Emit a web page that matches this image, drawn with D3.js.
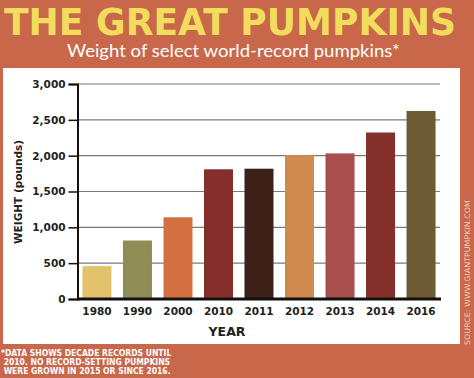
<!DOCTYPE html>
<html>
<head>
<meta charset="utf-8">
<script src="https://cdn.jsdelivr.net/npm/d3@7"></script>
<style>
  html, body { margin: 0; padding: 0; background: #c8674a; }
  svg { display: block; }
</style>
</head>
<body>
<div id="chart"></div>
<script>
// Data
const years = ['1980', '1990', '2000', '2010', '2011', '2012', '2013', '2014', '2016'];
const weights = [459, 816, 1140, 1810, 1818, 2009, 2032, 2323, 2624];
const barColors = ['#e2c26b', '#8f8c55', '#d4703f', '#842f2b', '#3d2018', '#cf8a4d', '#a84e4c', '#842f2b', '#6d5c33'];
const yTicks = [0, 500, 1000, 1500, 2000, 2500, 3000];
const footnote = ['*DATA SHOWS DECADE RECORDS UNTIL', ' 2010. NO RECORD-SETTING PUMPKINS', ' WERE GROWN IN 2015 OR SINCE 2016.'];

const data = years.map((y, i) => ({ year: y, weight: weights[i], color: barColors[i] }));

const W = 474, H = 378;
const svg = d3.select('#chart').append('svg')
    .attr('width', W)
    .attr('height', H);

// Background + white panel
svg.append('rect').attr('width', W).attr('height', H).attr('fill', '#c8674a');
svg.append('rect')
    .attr('x', 3).attr('y', 68)
    .attr('width', 457).attr('height', 276)
    .attr('fill', '#ffffff');

// Title
svg.append('text')
    .attr('x', 4).attr('y', 35)
    .attr('textLength', 452)
    .attr('lengthAdjust', 'spacingAndGlyphs')
    .style('font-family', 'DejaVu Sans')
    .style('font-weight', 'bold')
    .style('font-size', '37px')
    .attr('fill', '#f2dc5d')
    .text('THE GREAT PUMPKINS');

svg.append('text')
    .attr('x', 67).attr('y', 57)
    .attr('textLength', 333)
    .attr('lengthAdjust', 'spacingAndGlyphs')
    .style('font-family', 'Lato')
    .style('font-size', '18px')
    .attr('fill', '#ffffff')
    .text('Weight of select world-record pumpkins*');

// Scales
const x = d3.scaleBand()
    .domain(years)
    .range([78, 440])
    .paddingInner(0.284)
    .paddingOuter(0.11);

const y = d3.scaleLinear()
    .domain([0, 3000])
    .range([299, 84]);

// Gridlines
svg.append('g')
    .selectAll('line')
    .data(yTicks.filter(d => d > 0))
    .enter()
    .append('line')
    .attr('x1', 78).attr('x2', 440)
    .attr('y1', d => y(d)).attr('y2', d => y(d))
    .attr('stroke', '#7a7a7a')
    .attr('stroke-width', 1.2);

// Bars
svg.append('g')
    .selectAll('rect')
    .data(data)
    .enter()
    .append('rect')
    .attr('x', d => x(d.year))
    .attr('y', d => y(d.weight))
    .attr('width', x.bandwidth())
    .attr('height', d => y(0) - y(d.weight))
    .attr('fill', d => d.color);

// Y axis
const yAxis = d3.axisLeft(y)
    .tickValues(yTicks)
    .tickFormat(d3.format(','))
    .tickSize(9)
    .tickPadding(3);

const yG = svg.append('g')
    .attr('transform', 'translate(77.5,0)')
    .call(yAxis);
yG.select('.domain').attr('stroke', '#111').attr('stroke-width', 2);
yG.selectAll('.tick line').attr('stroke', '#111').attr('stroke-width', 1.5);
yG.selectAll('.tick text')
    .style('font-family', 'DejaVu Sans')
    .style('font-weight', 'bold')
    .style('font-size', '10.5px')
    .attr('fill', '#222');

// X axis
const xAxis = d3.axisBottom(x).tickSize(0).tickPadding(9);
const xG = svg.append('g')
    .attr('transform', 'translate(0,299)')
    .call(xAxis);
xG.select('.domain').remove();
xG.append('line')
    .attr('x1', 77).attr('x2', 441)
    .attr('y1', 0).attr('y2', 0)
    .attr('stroke', '#111')
    .attr('stroke-width', 3);
xG.selectAll('.tick text')
    .style('font-family', 'DejaVu Sans')
    .style('font-weight', 'bold')
    .style('font-size', '10.5px')
    .attr('fill', '#222');

// Axis titles
svg.append('text')
    .attr('transform', 'translate(22,192) rotate(-90)')
    .attr('text-anchor', 'middle')
    .style('font-family', 'DejaVu Sans')
    .style('font-weight', 'bold')
    .style('font-size', '10.5px')
    .attr('fill', '#222')
    .text('WEIGHT (pounds)');

svg.append('text')
    .attr('x', 227).attr('y', 336)
    .attr('text-anchor', 'middle')
    .style('font-family', 'DejaVu Sans')
    .style('font-weight', 'bold')
    .style('font-size', '12.5px')
    .attr('fill', '#222')
    .text('YEAR');

// Footnote
svg.append('g')
    .selectAll('text')
    .data(footnote)
    .enter()
    .append('text')
    .attr('x', 1)
    .attr('y', (d, i) => 356 + i * 9)
    .attr('xml:space', 'preserve')
    .style('white-space', 'pre')
    .style('font-family', 'Liberation Sans Narrow, DejaVu Sans Condensed')
    .style('font-weight', 'bold')
    .style('font-size', '8.5px')
    .attr('fill', '#ffffff')
    .text(d => d);

// Source
svg.append('text')
    .attr('transform', 'translate(470,345) rotate(-90)')
    .attr('textLength', 145)
    .attr('lengthAdjust', 'spacingAndGlyphs')
    .style('font-family', 'DejaVu Sans')
    .style('font-size', '7.5px')
    .attr('fill', '#f3cdb8')
    .text('SOURCE: WWW.GIANTPUMPKIN.COM');
</script>
</body>
</html>
